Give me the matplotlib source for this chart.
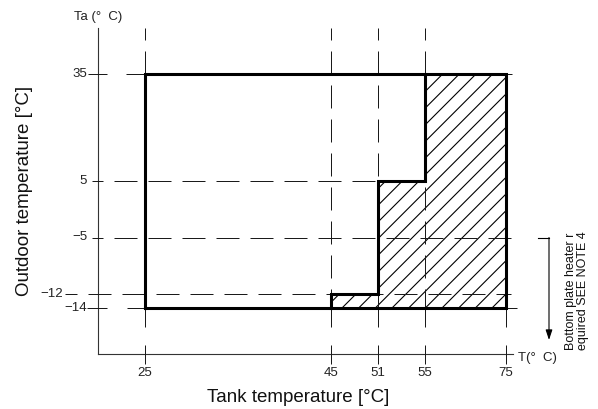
import numpy as np
import matplotlib
matplotlib.use("Agg")
import matplotlib.pyplot as plt

# ---------------- data ----------------
tank_ticks = [25, 45, 51, 55, 75]
tank_labels = ["25", "45", "51", "55", "75"]
outdoor_ticks = [-14, -12, -5, 5, 35]
outdoor_labels = ["−14", "−12", "−5", "5", "35"]

# operating envelope (tank temperature vs outdoor temperature)
env_tank = [25, 75, 75, 25, 25]
env_out = [-14, -14, 35, 35, -14]
# region where bottom plate heater is required (hatched)
hatch_tank = [45, 75, 75, 55, 55, 51, 51, 45]
hatch_out = [-14, -14, 35, 35, 5, 5, -12, -12]
# step boundary of the hatched region
step_tank = [45, 45, 51, 51, 55, 55]
step_out = [-14, -12, -12, 5, 5, 35]

# ---------------- layout (schematic, non-linear axes) ----------------
W, H = 598, 409
X_PIX = [145, 331, 378, 425, 506]          # pixel column of each tank tick
Y_PIX = [308, 294, 237.5, 180.5, 74]       # pixel row (from top) of each outdoor tick

def piecewise(xs, ps):
    xs = np.asarray(xs, float)
    ps = np.asarray(ps, float)
    s0 = (ps[1] - ps[0]) / (xs[1] - xs[0])
    s1 = (ps[-1] - ps[-2]) / (xs[-1] - xs[-2])
    def f(v):
        v = np.asarray(v, float)
        out = np.interp(v, xs, ps)
        out = np.where(v < xs[0], ps[0] + (v - xs[0]) * s0, out)
        out = np.where(v > xs[-1], ps[-1] + (v - xs[-1]) * s1, out)
        return out
    return f

yb = H - np.asarray(Y_PIX, float)
fx, fx_inv = piecewise(tank_ticks, X_PIX), piecewise(X_PIX, tank_ticks)
fy, fy_inv = piecewise(outdoor_ticks, yb), piecewise(yb, outdoor_ticks)

def X(px):
    return float(fx_inv(px))

def Y(pt):
    return float(fy_inv(H - pt))

plt.rcParams["hatch.linewidth"] = 0.8
fig = plt.figure(figsize=(W / 100, H / 100), dpi=100)
ax = fig.add_axes([0, 0, 1, 1])
ax.set_xscale("function", functions=(fx, fx_inv))
ax.set_yscale("function", functions=(fy, fy_inv))
ax.set_xlim(X(0), X(W))
ax.set_ylim(Y(H), Y(0))
ax.axis("off")

thin = dict(color="#1a1a1a", lw=0.72, dash_capstyle="butt", solid_capstyle="butt")
narrow = ["Liberation Sans Narrow", "Liberation Sans", "DejaVu Sans"]

# axes lines
ax.plot([X(98), X(98)], [Y(28), Y(354)], color="#333333", lw=0.8)
ax.plot([X(98), X(513)], [Y(354), Y(354)], color="#333333", lw=0.8)

# horizontal reference lines
ax.plot([X(92), X(378)], [5, 5], linestyle=(12, (23, 11)), **thin)
ax.plot([X(92), X(521)], [-5, -5], linestyle=(12, (23, 11)), **thin)
ax.plot([X(65), X(511)], [-12, -12], linestyle=(11, (23, 11)), **thin)
for yv, a, b, c, d in [(35, 88, 107, 126, 512), (-14, 87, 107, 127, 517)]:
    ax.plot([X(a), X(b)], [yv, yv], **thin)
    ax.plot([X(c), 25], [yv, yv], **thin)
    ax.plot([75, X(d)], [yv, yv], **thin)

# vertical reference lines
for t in tank_ticks:
    if t != 75:
        ax.plot([t, t], [Y(28), -14], linestyle=(11, (23, 11)), **thin)
    ax.plot([t, t], [-14, Y(364)], linestyle=(0, (19, 18)), **thin)

# hatched region and thick boundaries
ax.fill(hatch_tank, hatch_out, facecolor="none", edgecolor="black",
        hatch="//", lw=0)
ax.plot(env_tank, env_out, color="black", lw=2.2, solid_joinstyle="miter")
ax.plot(step_tank, step_out, color="black", lw=2.2, solid_joinstyle="miter")

# tick labels
for t, lab in zip(tank_ticks, tank_labels):
    ax.text(t, Y(373), lab, ha="center", va="center", fontsize=9.5,
            family=narrow, color="#222222")
for o, lab in zip(outdoor_ticks, outdoor_labels):
    xl = X(63) if o == -12 else X(87)
    ax.text(xl, o, lab, ha="right", va="center", fontsize=9.5,
            family=narrow, color="#222222")

ax.text(X(74), Y(17), "Ta (°  C)", ha="left", va="center", fontsize=9.5,
        family=narrow, color="#222222")
ax.text(X(518), Y(358), "T(°  C)", ha="left", va="center", fontsize=9.5,
        family=narrow, color="#222222")

# axis titles
ax.text(X(298.5), Y(402), "Tank temperature [°C]", ha="center", va="baseline",
        fontsize=13.5, family=["Liberation Sans", "DejaVu Sans"], color="#111111")
ax.text(X(24), Y(191), "Outdoor temperature [°C]", rotation=90, ha="center",
        va="center", fontsize=13.5, family=["Liberation Sans", "DejaVu Sans"],
        color="#111111")

# note and arrow
ax.plot([X(538), X(549)], [-5, -5], color="black", lw=0.8)
ax.annotate("", xy=(X(549), Y(340)), xytext=(X(549), -5),
            arrowprops=dict(arrowstyle="-|>,head_length=0.6,head_width=0.2",
                            color="black", lw=0.8, shrinkA=0, shrinkB=0))
ax.text(X(577), Y(350), "Bottom plate heater r\nequired SEE NOTE 4", rotation=90,
        ha="center", va="bottom", multialignment="left", fontsize=9,
        linespacing=1.05, family=["Liberation Sans", "DejaVu Sans"], color="#111111")

fig.savefig("out.png", dpi=100)
